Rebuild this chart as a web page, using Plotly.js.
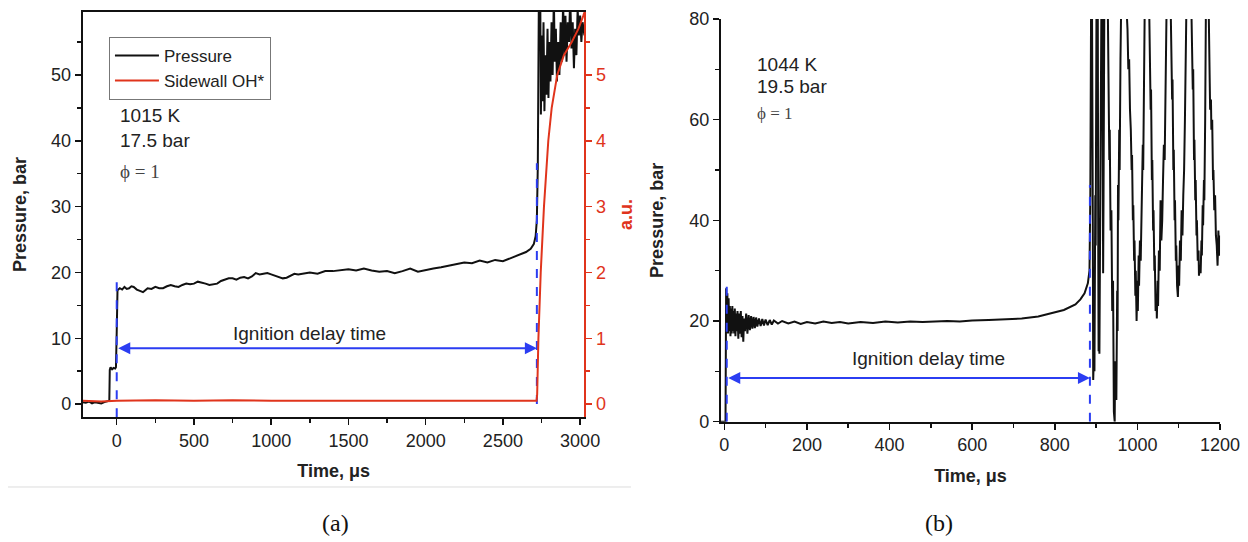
<!DOCTYPE html>
<html>
<head>
<meta charset="utf-8">
<script src="https://cdn.plot.ly/plotly-3.0.1.min.js"></script>
<style>
  html, body { margin: 0; padding: 0; background: #ffffff; }
  #chart { width: 1248px; height: 542px; }
</style>
</head>
<body>
<div id="chart"></div>
<script>
// ---------- Panel (a): pressure trace (bar) vs time (µs) ----------
const timeA = [-220,-200,-180,-160,-140,-120,-100,-80,-60,-48,-45,-40,-30,-20,-10,-5,0,5,20,35,50,65,80,95,110,130,150,170,185,200,225,250,275,300,325,350,375,400,425,450,475,500,525,550,575,600,625,650,675,700,725,750,775,800,825,850,875,900,925,950,975,1000,1025,1050,1075,1100,1125,1150,1175,1200,1250,1300,1350,1400,1450,1500,1550,1600,1650,1700,1750,1800,1850,1900,1950,2000,2050,2100,2150,2200,2250,2300,2350,2400,2450,2500,2550,2600,2650,2680,2700,2712,2720,2726,2733,2742,2746,2752,2757,2763,2769,2776,2782,2789,2795,2802,2808,2815,2822,2830,2836,2843,2850,2858,2866,2874,2882,2890,2897,2905,2912,2920,2928,2936,2944,2952,2960,2968,2976,2984,2992,3000,3008,3016,3028];
const pressureA = [0.3,0.2,0.4,0.1,0.3,0.2,0.1,0.3,0.4,0.5,5.2,5.6,5.3,5.5,5.4,5.6,11,17.3,17.6,17.4,17.8,17.5,17.6,17.9,17.8,17.4,17.2,17.0,17.3,17.6,17.5,17.8,17.6,17.6,17.9,18.1,17.9,17.8,18.1,18.3,18.2,18.3,18.6,18.5,18.3,18.1,18.2,18.3,18.7,18.9,19.1,19.1,18.9,19.2,19.3,19.1,19.4,19.9,19.7,19.8,19.9,19.7,19.5,19.3,19.1,19.2,19.5,19.8,19.7,19.8,20.0,19.8,20.2,20.2,20.4,20.5,20.3,20.6,20.3,20.1,20.2,19.9,20.2,20.6,20.1,20.4,20.6,20.8,21.0,21.2,21.5,21.4,21.8,21.5,21.9,21.7,22.2,22.6,23.1,23.6,24.3,25.5,28,36,62,62,44,56,46,58,44.5,53,47,57,46.5,55,49,58,50,62,52,57,49,55,50,58,52,61,53,59,52,58,55,62,54,58,51,57,53,60,56,59,55,58,56];

// ---------- Panel (a): sidewall OH* emission (a.u.) ----------
const timeOH = [-220,-100,0,250,500,750,1000,1250,1500,1750,2000,2250,2500,2718,2722,2730,2745,2766,2794,2816,2852,2895,2946,2989,3021,3028];
const ohStar = [0.05,0.04,0.05,0.06,0.05,0.06,0.05,0.05,0.06,0.05,0.05,0.06,0.06,0.05,0.15,1.0,2.0,3.0,4.0,4.5,5.0,5.3,5.5,5.7,5.9,5.95];

// ---------- Panel (b): pressure trace (bar) vs time (µs) ----------
const timeB = [-8,3,4.5,6,7.5,9,10.5,12,13.5,15,16.5,18,19.5,21,22.5,24,25.5,27,28.5,30,32,34,36,38,40,42,44,46,48,50,53,56,59,62,65,68,71,74,77,80,84,88,92,96,100,105,110,115,120,130,140,155,170,185,200,220,240,260,280,300,330,360,390,420,450,480,510,540,570,600,640,680,720,760,790,822,850,862,872,880,884,886,888,890,892,893,895,896,898,899,901,904,905,906,907,908,910,911,913,915,916,917,918,920,928,930,932,933,935,937,939,941,943,945,946,948,949,951,952,953,954,956,957,959,961,972,976,978,980,982,984,986,987,989,990,992,993,995,996,998,1000,1001,1003,1004,1006,1008,1010,1011,1013,1014,1016,1018,1028,1030,1032,1033,1035,1036,1038,1039,1041,1042,1044,1046,1047,1049,1050,1052,1054,1056,1058,1060,1062,1064,1066,1068,1071,1080,1082,1084,1085,1087,1088,1090,1091,1093,1094,1096,1098,1100,1101,1103,1105,1107,1109,1111,1113,1115,1117,1119,1130,1132,1134,1135,1137,1138,1140,1141,1143,1144,1146,1148,1149,1151,1153,1155,1156,1158,1159,1161,1162,1164,1166,1172,1174,1176,1178,1179,1181,1183,1184,1186,1188,1190,1192,1194,1196,1198,1200];
const pressureB = [0,0,26.5,19,25.5,17.5,24.5,18,23,17,22.5,17.5,23,18,22,17.5,22.5,17,21.5,18,22,16.5,21.5,17.5,22,16.8,21,15.9,20.5,18,21.5,17.5,21.2,18.2,21,18.5,20.8,18.6,20.7,18.9,20.5,19.0,20.4,19.1,20.3,19.2,20.2,19.3,20.1,19.5,20.0,19.5,19.9,19.4,19.8,19.5,19.9,19.6,19.8,19.5,19.8,19.6,19.9,19.7,19.9,19.8,19.9,20.0,19.9,20.1,20.2,20.3,20.5,20.9,21.5,22.2,23.3,24.3,25.5,27.5,30,45,85,85,40,8.3,14,10,45,35,85,85,40,14,20,13.5,45,38,85,85,50,29.5,45,85,85,65,52,58,38,42,22,28,2,0,12,6,4.3,26,18,47,40,58,50,72,85,85,78,70,72,62,58,50,53,40,43,32,36,25,30,20,28,22,33,27,36,32,45,40,55,50,62,85,85,72,62,66,48,52,38,42,30,33,22,25,20.5,28,23,34,30,44,36,40,48,55,52,64,85,85,72,64,68,50,54,40,44,32,35,27,24.8,31,27,36,32,42,37,45,50,60,70,85,85,73,66,70,52,56,44,48,37,40,32,34,29,31,29.5,36,33,43,39,48,44,60,85,85,70,62,64,58,60,48,50,42,45,37,35,31,38,33,37];

// ---------- Ignition delay markers ----------
const idtA = [0, 2720];        // start / end of ignition delay, panel (a)
const idtAtop = [19, 36.6];    // top of dashed markers (bar)
const idtAarrowY = 8.5;
const idtB = [6, 885];
const idtBtop = [27, 47];
const idtBarrowY = 8.7;

// ---------- Axis tick settings ----------
const xTicksA = {dtick: 500, minor: 250, range: [-220, 3028]};
const yTicksA = {dtick: 10, minor: 5, range: [-2, 59.6]};
const y2TicksA = {dtick: 1, minor: 0.5, range: [-0.2, 5.96]};
const xTicksB = {dtick: 200, minor: 100, range: [-8, 1200]};
const yTicksB = {dtick: 20, minor: 10, range: [0, 80]};

const BLACK = '#111111';
const RED = '#e0341c';
const BLUE = '#2b3df2';
const TXT = '#222222';
const SANS = 'Liberation Sans, Arial, sans-serif';
const SERIF = 'Liberation Serif, Times New Roman, serif';

const traces = [
  {x: timeA, y: pressureA, xaxis: 'x', yaxis: 'y', mode: 'lines', name: 'Pressure',
   line: {color: BLACK, width: 2}},
  {x: timeOH, y: ohStar, xaxis: 'x', yaxis: 'y2', mode: 'lines', name: 'Sidewall OH*',
   line: {color: RED, width: 2}},
  {x: [idtA[0], idtA[0]], y: [yTicksA.range[0], idtAtop[0]], xaxis: 'x', yaxis: 'y', mode: 'lines',
   showlegend: false, line: {color: BLUE, width: 2, dash: 'dash'}},
  {x: [idtA[1], idtA[1]], y: [0, idtAtop[1]], xaxis: 'x', yaxis: 'y', mode: 'lines',
   showlegend: false, line: {color: BLUE, width: 2, dash: 'dash'}},
  {x: timeB, y: pressureB, xaxis: 'x3', yaxis: 'y3', mode: 'lines', showlegend: false,
   line: {color: BLACK, width: 2}},
  {x: [idtB[0], idtB[0]], y: [0, idtBtop[0]], xaxis: 'x3', yaxis: 'y3', mode: 'lines',
   showlegend: false, line: {color: BLUE, width: 2, dash: 'dash'}},
  {x: [idtB[1], idtB[1]], y: [0, idtBtop[1]], xaxis: 'x3', yaxis: 'y3', mode: 'lines',
   showlegend: false, line: {color: BLUE, width: 2, dash: 'dash'}}
];

const tickFont = {family: SANS, size: 18, color: TXT};
const titleFont = {family: SANS, size: 18, color: TXT};

function baseAxis(extra) {
  return Object.assign({
    showgrid: false, zeroline: false, showline: true, linecolor: BLACK, linewidth: 2,
    ticks: 'outside', ticklen: 6, tickwidth: 1.5, tickcolor: BLACK,
    tickfont: tickFont, automargin: false, fixedrange: true
  }, extra);
}

const layout = {
  width: 1248, height: 542,
  margin: {l: 0, r: 0, t: 0, b: 0},
  paper_bgcolor: '#ffffff', plot_bgcolor: 'rgba(0,0,0,0)',
  showlegend: true,
  legend: {x: 0.0873, y: 0.932, xanchor: 'left', yanchor: 'top',
    bgcolor: '#ffffff', bordercolor: '#777777', borderwidth: 1,
    font: {family: SANS, size: 17, color: TXT}, itemwidth: 44,
    tracegroupgap: 0},
  xaxis: baseAxis({domain: [0.0663, 0.4683], anchor: 'y', range: xTicksA.range,
    tick0: 0, dtick: xTicksA.dtick, mirror: true,
    minor: {dtick: xTicksA.minor, tick0: 0, ticks: 'outside', ticklen: 4, tickwidth: 1.5, tickcolor: BLACK},
    title: {text: '<b>Time, μs</b>', font: titleFont, standoff: 15}}),
  yaxis: baseAxis({domain: [0.2301, 0.9784], anchor: 'x', range: yTicksA.range,
    tick0: 0, dtick: yTicksA.dtick,
    minor: {dtick: yTicksA.minor, tick0: 0, ticks: 'outside', ticklen: 4, tickwidth: 1.5, tickcolor: BLACK},
    title: {text: '<b>Pressure, bar</b>', font: titleFont, standoff: 20}}),
  yaxis2: baseAxis({overlaying: 'y', side: 'right', anchor: 'x', range: y2TicksA.range,
    tick0: 0, dtick: y2TicksA.dtick, linecolor: RED, tickcolor: RED,
    tickfont: {family: SANS, size: 18, color: RED},
    minor: {dtick: y2TicksA.minor, tick0: 0, ticks: 'outside', ticklen: 4, tickwidth: 1.5, tickcolor: RED},
    title: {text: '<b>a.u.</b>', font: {family: SANS, size: 18, color: RED}, standoff: 14}}),
  xaxis3: baseAxis({domain: [0.5777, 0.9776], anchor: 'y3', range: xTicksB.range,
    tick0: 0, dtick: xTicksB.dtick,
    minor: {dtick: xTicksB.minor, tick0: 0, ticks: 'outside', ticklen: 4, tickwidth: 1.5, tickcolor: BLACK},
    title: {text: '<b>Time, μs</b>', font: titleFont, standoff: 15}}),
  xaxis4: baseAxis({overlaying: 'x3', side: 'top', anchor: 'y3', range: xTicksB.range,
    tick0: 0, dtick: 120, ticks: 'inside', ticklen: 6, showticklabels: false}),
  yaxis3: baseAxis({domain: [0.2220, 0.9649], anchor: 'x3', range: yTicksB.range,
    tick0: 0, dtick: yTicksB.dtick,
    minor: {dtick: yTicksB.minor, tick0: 0, ticks: 'outside', ticklen: 4, tickwidth: 1.5, tickcolor: BLACK},
    title: {text: '<b>Pressure, bar</b>', font: titleFont, standoff: 21}}),
  yaxis4: baseAxis({overlaying: 'y3', side: 'right', anchor: 'x3', range: yTicksB.range,
    tick0: 0, dtick: 8, ticks: 'inside', ticklen: 6, showticklabels: false}),
  annotations: [
    {xref: 'x', yref: 'y', x: 7, y: 43.8, text: '1015 K', showarrow: false, xanchor: 'left',
     font: {family: SANS, size: 19, color: TXT}},
    {xref: 'x', yref: 'y', x: 7, y: 40.0, text: '17.5 bar', showarrow: false, xanchor: 'left',
     font: {family: SANS, size: 19, color: TXT}},
    {xref: 'x', yref: 'y', x: 7, y: 35.3, text: 'ϕ = 1', showarrow: false, xanchor: 'left',
     font: {family: SERIF, size: 19, color: '#444444'}},
    {xref: 'x', yref: 'y', x: 1251, y: 10.7, text: 'Ignition delay time', showarrow: false,
     font: {family: SANS, size: 19, color: TXT}},
    {xref: 'x', yref: 'y', axref: 'x', ayref: 'y', x: idtA[1], y: idtAarrowY, ax: idtA[0], ay: idtAarrowY,
     text: '', showarrow: true, arrowhead: 2, startarrowhead: 2, arrowside: 'end+start',
     arrowsize: 1.2, startarrowsize: 1.2, arrowwidth: 2, arrowcolor: BLUE, standoff: 0, startstandoff: 0},
    {xref: 'x3', yref: 'y3', x: 74, y: 71, text: '1044 K', showarrow: false, xanchor: 'left',
     font: {family: SANS, size: 19, color: TXT}},
    {xref: 'x3', yref: 'y3', x: 74, y: 66.5, text: '19.5 bar', showarrow: false, xanchor: 'left',
     font: {family: SANS, size: 19, color: TXT}},
    {xref: 'x3', yref: 'y3', x: 74, y: 61.3, text: 'ϕ = 1', showarrow: false, xanchor: 'left',
     font: {family: SERIF, size: 17, color: '#444444'}},
    {xref: 'x3', yref: 'y3', x: 494, y: 12.5, text: 'Ignition delay time', showarrow: false,
     font: {family: SANS, size: 19, color: TXT}},
    {xref: 'x3', yref: 'y3', axref: 'x3', ayref: 'y3', x: idtB[1], y: idtBarrowY, ax: idtB[0], ay: idtBarrowY,
     text: '', showarrow: true, arrowhead: 2, startarrowhead: 2, arrowside: 'end+start',
     arrowsize: 1.2, startarrowsize: 1.2, arrowwidth: 2, arrowcolor: BLUE, standoff: 0, startstandoff: 0},
    {xref: 'paper', yref: 'paper', x: 0.2564, y: 0.035, yanchor: 'middle', text: '(a)', showarrow: false,
     font: {family: SERIF, size: 24, color: '#111111'}},
    {xref: 'paper', yref: 'paper', x: 0.7652, y: 0.035, yanchor: 'middle', text: '(b)', showarrow: false,
     font: {family: SERIF, size: 24, color: '#111111'}}
  ],
  shapes: [
    {type: 'line', xref: 'paper', yref: 'paper', x0: 0.0064, x1: 0.5056, y0: 0.1015, y1: 0.1015,
     line: {color: '#dddddd', width: 1}}
  ]
};

Plotly.newPlot('chart', traces, layout, {displayModeBar: false, staticPlot: true});
</script>
</body>
</html>
